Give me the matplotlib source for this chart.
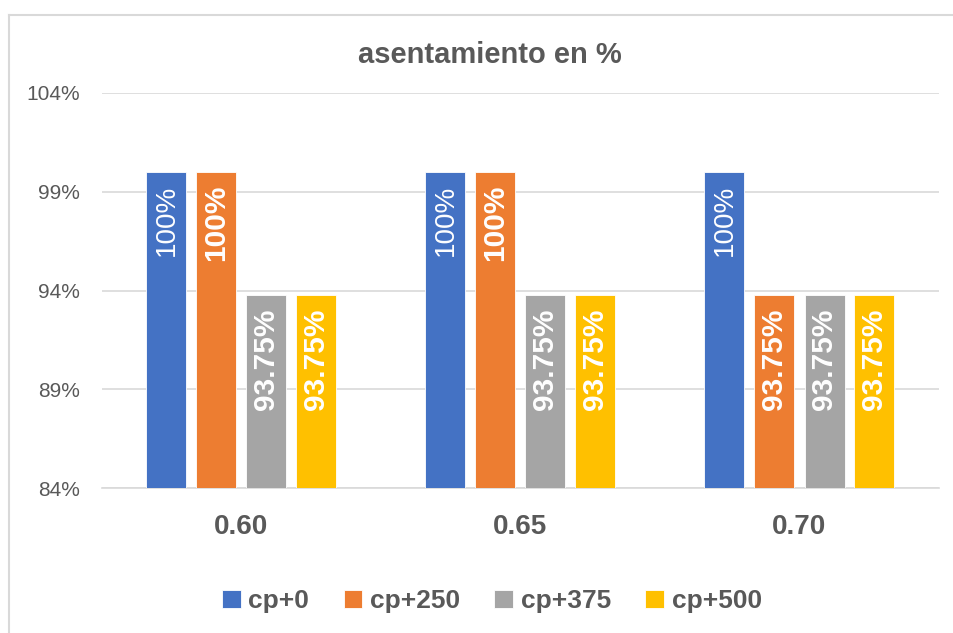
import numpy as np
import matplotlib
matplotlib.use("Agg")
import matplotlib.pyplot as plt
from matplotlib.lines import Line2D

# data
categories = ["0.60", "0.65", "0.70"]
series_names = ["cp+0", "cp+250", "cp+375", "cp+500"]
cp0 = [100.0, 100.0, 100.0]
cp250 = [100.0, 100.0, 93.75]
cp375 = [93.75, 93.75, 93.75]
cp500 = [93.75, 93.75, 93.75]
y_ticks = [84, 89, 94, 99, 104]

colors = ["#4472C4", "#ED7D31", "#A5A5A5", "#FFC000"]
text_col = "#595959"

plt.rcParams['font.family'] = ['Liberation Sans', 'DejaVu Sans']

fig = plt.figure(figsize=(9.54, 6.33), dpi=100)
ax = fig.add_axes([102 / 954, 1 - 488 / 633, 837 / 954, 395 / 633])

x = np.arange(len(categories))
step = 50 / 279
width = 40 / 279
all_series = [cp0, cp250, cp375, cp500]
for i, (vals, name, col) in enumerate(zip(all_series, series_names, colors)):
    pos = x + (i - 1.5) * step
    bars = ax.bar(pos, np.array(vals) - y_ticks[0], width, bottom=y_ticks[0],
                  color=col, edgecolor="white", linewidth=0.6, label=name, zorder=3)
    for b, v in zip(bars, vals):
        lbl = "100%" if v == 100 else f"{v:.2f}%"
        ax.text(b.get_x() + b.get_width() / 2, v - 0.65, lbl, rotation=90,
                ha="center", va="top", color="white",
                fontsize=20 if i == 0 else 21.5,
                fontweight="normal" if i == 0 else "bold", zorder=4)

ax.set_xlim(-0.5, 2.5)
ax.set_ylim(y_ticks[0], y_ticks[-1])
ax.set_yticks(y_ticks)
ax.set_yticklabels([f"{t}%" for t in y_ticks], fontsize=15, color=text_col)
ax.set_xticks(x)
ax.set_xticklabels(categories, fontsize=20, fontweight="bold", color=text_col)
ax.tick_params(axis="y", length=0, pad=16)
ax.tick_params(axis="x", length=0, pad=19)
ax.grid(axis="y", color="#D9D9D9", linewidth=1.2, zorder=0)
for s in ["top", "right", "left"]:
    ax.spines[s].set_visible(False)
ax.spines["bottom"].set_color("#D9D9D9")
ax.spines["bottom"].set_linewidth(1.2)

fig.text(490 / 954, 1 - 55 / 633, "asentamiento en %", ha="center", va="center",
         fontsize=21, fontweight="bold", color=text_col)

leg = fig.legend(loc="center", bbox_to_anchor=(492 / 954, 1 - 601 / 633), ncol=4,
                 frameon=False, handlelength=0.7, handleheight=0.7,
                 handletextpad=0.3, columnspacing=1.3,
                 prop={"size": 19, "weight": "bold"})
for t in leg.get_texts():
    t.set_color(text_col)

# chart frame (only top and left edges visible)
fig.add_artist(Line2D([9 / 954, 1], [1 - 15 / 633] * 2, color="#D9D9D9", lw=1.5))
fig.add_artist(Line2D([9 / 954] * 2, [0, 1 - 15 / 633], color="#D9D9D9", lw=1.5))

fig.savefig("out.png", dpi=100)
